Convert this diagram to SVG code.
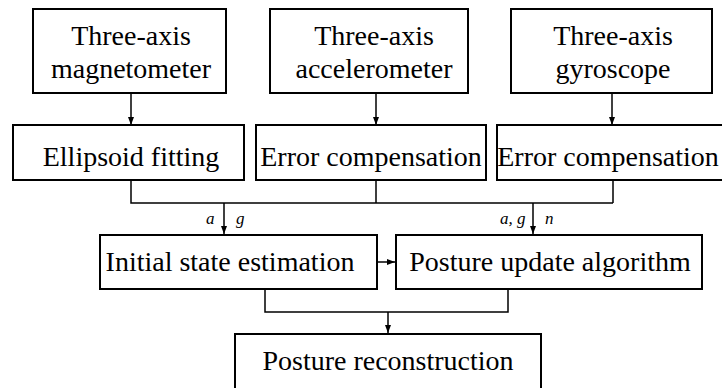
<svg xmlns="http://www.w3.org/2000/svg" width="722" height="388" viewBox="0 0 722 388" font-family="Liberation Serif, Times New Roman, serif">
<defs>
<style>
.box{fill:#fff;stroke:#000;stroke-width:2}
.t{font-size:28px;fill:#000;text-anchor:middle}
.m{font-style:italic;font-size:17px;fill:#000}
.c{fill:none;stroke:#000;stroke-width:1.5}
</style>
<marker id="ah" viewBox="0 0 8 6" refX="8" refY="3" markerWidth="8" markerHeight="6" markerUnits="userSpaceOnUse" orient="auto">
<path d="M0,0 L8,3 L0,6 Z" fill="#000"/>
</marker>
</defs>
<rect width="722" height="388" fill="#fff"/>
<g id="connectors">
<path class="c" d="M131,93 V125" marker-end="url(#ah)"/>
<path class="c" d="M376,93 V125" marker-end="url(#ah)"/>
<path class="c" d="M612,93 V125" marker-end="url(#ah)"/>
<path class="c" d="M131,180 V203 H613 M376,180 V203 M613,180 V203"/>
<path class="c" d="M224,203 V234" marker-end="url(#ah)"/>
<path class="c" d="M533,203 V234" marker-end="url(#ah)"/>
<path class="c" d="M377,262 H395" marker-end="url(#ah)"/>
<path class="c" d="M265,289 V312 H508 V289"/>
<path class="c" d="M388,312 V333" marker-end="url(#ah)"/>
<text class="m" x="206" y="224">a</text>
<text class="m" x="236" y="224">g</text>
<text class="m" x="500" y="224">a, g</text>
<text class="m" x="545" y="224">n</text>
</g>
<g id="magnetometer">
<rect class="box" x="33" y="9" width="193" height="84"/>
<text class="t" x="131" y="45">Three-axis</text>
<text class="t" x="131" y="78">magnetometer</text>
</g>
<g id="accelerometer">
<rect class="box" x="270" y="9" width="198" height="84"/>
<text class="t" x="374" y="45">Three-axis</text>
<text class="t" x="374" y="78">accelerometer</text>
</g>
<g id="gyroscope">
<rect class="box" x="511" y="9" width="201" height="84"/>
<text class="t" x="613" y="45">Three-axis</text>
<text class="t" x="613" y="78">gyroscope</text>
</g>
<g id="ellipsoid">
<rect class="box" x="13" y="125" width="231" height="55"/>
<text class="t" x="131" y="166">Ellipsoid fitting</text>
</g>
<g id="errcomp1">
<rect class="box" x="256" y="125" width="230" height="55"/>
<text class="t" x="371" y="166">Error compensation</text>
</g>
<g id="errcomp2">
<rect class="box" x="497" y="125" width="240" height="55"/>
<text class="t" x="608" y="166">Error compensation</text>
</g>
<g id="initial">
<rect class="box" x="100" y="235" width="277" height="54"/>
<text class="t" x="230" y="271">Initial state estimation</text>
</g>
<g id="update">
<rect class="box" x="396" y="235" width="306" height="54"/>
<text class="t" x="550" y="271">Posture update algorithm</text>
</g>
<g id="reconstruction">
<rect class="box" x="235" y="334" width="306" height="60"/>
<text class="t" x="388" y="370">Posture reconstruction</text>
</g>
</svg>
